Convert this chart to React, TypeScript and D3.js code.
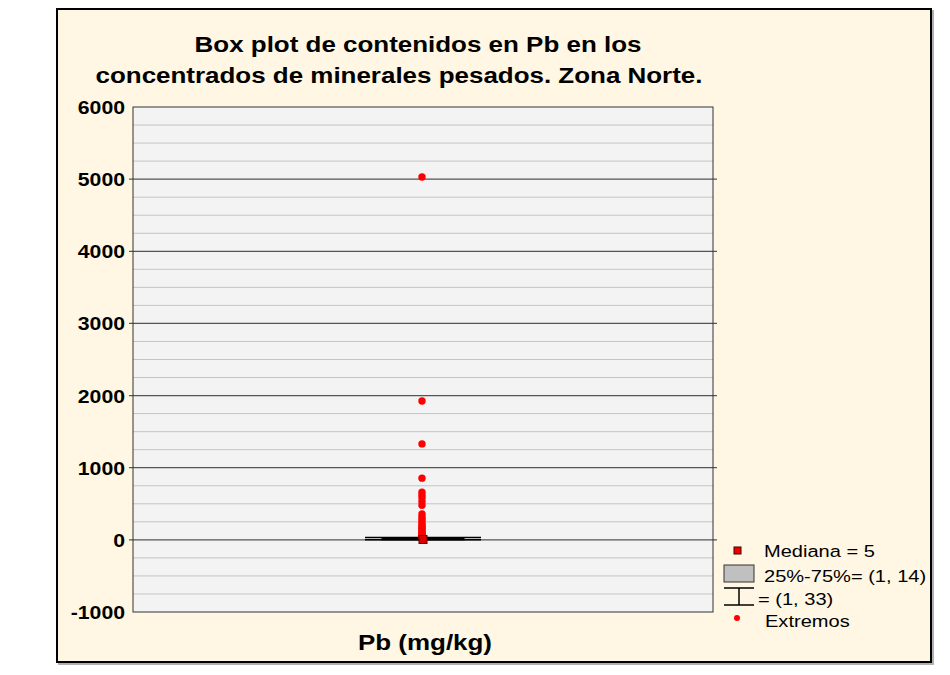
import * as d3 from 'd3';
import React, { useEffect, useRef } from 'react';

const yTicks = [-1000, 0, 1000, 2000, 3000, 4000, 5000, 6000];
const category = 'Pb (mg/kg)';
const boxStats = { min: 1, q1: 1, median: 5, q3: 14, max: 33 };
const extremes = [
  5030, 1925, 1330, 855, 660, 620, 580, 530, 480, 360, 320, 290, 260, 230,
  200, 180, 160, 140, 120, 100, 85, 70, 60, 50, 45, 40
];
const legendLabels = ['Mediana = 5', '25%-75%= (1, 14)', '= (1, 33)', 'Extremos'];

export default function App() {
  const ref = useRef<SVGSVGElement>(null);

  useEffect(() => {
    const svg = d3.select(ref.current);
    svg.selectAll('*').remove();
    const font = "'Liberation Sans', Arial, sans-serif";
    const sx = 1.18; // the original text is drawn a bit wider than Arial
    const m = { left: 133, right: 713, top: 107, bottom: 612 };

    function txt(g: any, x: number, y: number, s: string, size: number, bold: boolean, anchor = 'start') {
      g.append('text')
        .attr('transform', 'translate(' + x + ',' + y + ') scale(' + sx + ',1)')
        .attr('text-anchor', anchor)
        .attr('font-family', font)
        .attr('font-weight', bold ? 'bold' : 'normal')
        .attr('font-size', size)
        .attr('fill', '#000')
        .text(s);
    }

    // frame
    svg.append('rect').attr('x', 58).attr('y', 10).attr('width', 876).attr('height', 655).attr('fill', '#b0b0b0');
    svg.append('rect').attr('x', 57).attr('y', 9).attr('width', 874).attr('height', 653)
      .attr('fill', '#fff7e3').attr('stroke', '#000').attr('stroke-width', 2);

    const y = d3.scaleLinear().domain([-1000, 6000]).range([m.bottom, m.top]);
    const x = d3.scaleBand().domain([category]).range([m.left, m.right]);

    svg.append('rect').attr('x', m.left).attr('y', m.top).attr('width', m.right - m.left)
      .attr('height', m.bottom - m.top).attr('fill', '#f3f3f3');

    // grid
    const minor = d3.range(-1000, 6001, 250).filter((v) => v % 1000 !== 0);
    svg.append('g').selectAll('line').data(minor).enter().append('line')
      .attr('x1', m.left).attr('x2', m.right)
      .attr('y1', (d) => y(d)).attr('y2', (d) => y(d))
      .attr('stroke', '#c4c4c4').attr('stroke-width', 1);
    svg.append('g').selectAll('line').data(yTicks.filter((v) => v > -1000 && v < 6000)).enter().append('line')
      .attr('x1', m.left - 4).attr('x2', m.right + 4)
      .attr('y1', (d) => y(d)).attr('y2', (d) => y(d))
      .attr('stroke', '#555').attr('stroke-width', 1.2);

    svg.append('rect').attr('x', m.left).attr('y', m.top).attr('width', m.right - m.left)
      .attr('height', m.bottom - m.top).attr('fill', 'none').attr('stroke', '#333').attr('stroke-width', 1);

    // y labels
    const yl = svg.append('g');
    yTicks.forEach((t) => txt(yl, m.left - 8, y(t) + 7, String(t), 18, true, 'end'));

    // box + whiskers
    const cx = (x(category) as number) + x.bandwidth() / 2;
    [boxStats.min, boxStats.max].forEach((v) => {
      svg.append('line').attr('x1', cx - 58).attr('x2', cx + 58)
        .attr('y1', y(v)).attr('y2', y(v)).attr('stroke', '#000').attr('stroke-width', 1.5);
    });
    svg.append('line').attr('x1', cx).attr('x2', cx)
      .attr('y1', y(boxStats.min)).attr('y2', y(boxStats.max)).attr('stroke', '#000').attr('stroke-width', 1.5);
    svg.append('rect').attr('x', cx - 41).attr('width', 82)
      .attr('y', y(boxStats.q3) - 1).attr('height', Math.max(2, y(boxStats.q1) - y(boxStats.q3) + 1))
      .attr('fill', '#000').attr('stroke', '#000').attr('stroke-width', 1);

    // extremes
    svg.append('g').selectAll('circle').data(extremes).enter().append('circle')
      .attr('cx', cx - 1).attr('cy', (d) => y(d)).attr('r', 3.7).attr('fill', '#ff0000');

    svg.append('rect').attr('x', cx - 4).attr('y', y(boxStats.median) - 4).attr('width', 8).attr('height', 8)
      .attr('fill', '#dd0000').attr('stroke', '#600').attr('stroke-width', 1);

    // titles
    const tg = svg.append('g');
    txt(tg, 418, 52, 'Box plot de contenidos en Pb en los', 22, true, 'middle');
    txt(tg, 399, 83, 'concentrados de minerales pesados. Zona Norte.', 22, true, 'middle');
    txt(tg, cx + 2, 650, category, 22, true, 'middle');

    // legend
    const lg = svg.append('g');
    lg.append('rect').attr('x', 734).attr('y', 547).attr('width', 7).attr('height', 7)
      .attr('fill', '#ee0000').attr('stroke', '#400').attr('stroke-width', 1);
    txt(lg, 764, 557, legendLabels[0], 17, false);
    lg.append('rect').attr('x', 724).attr('y', 565).attr('width', 30).attr('height', 17)
      .attr('fill', '#c0c0c0').attr('stroke', '#333').attr('stroke-width', 1);
    txt(lg, 764, 582, legendLabels[1], 17, false);
    lg.append('line').attr('x1', 724).attr('x2', 754).attr('y1', 588).attr('y2', 588).attr('stroke', '#000').attr('stroke-width', 1.5);
    lg.append('line').attr('x1', 724).attr('x2', 754).attr('y1', 605).attr('y2', 605).attr('stroke', '#000').attr('stroke-width', 1.5);
    lg.append('line').attr('x1', 739).attr('x2', 739).attr('y1', 588).attr('y2', 605).attr('stroke', '#000').attr('stroke-width', 1.5);
    txt(lg, 758, 605, legendLabels[2], 17, false);
    lg.append('circle').attr('cx', 737).attr('cy', 618).attr('r', 3).attr('fill', '#ff0000');
    txt(lg, 765, 627, legendLabels[3], 17, false);
  }, []);

  return (
    <svg ref={ref} width={950} height={675} style={{ position: 'absolute', left: 0, top: 0, background: '#fff' }} />
  );
}
